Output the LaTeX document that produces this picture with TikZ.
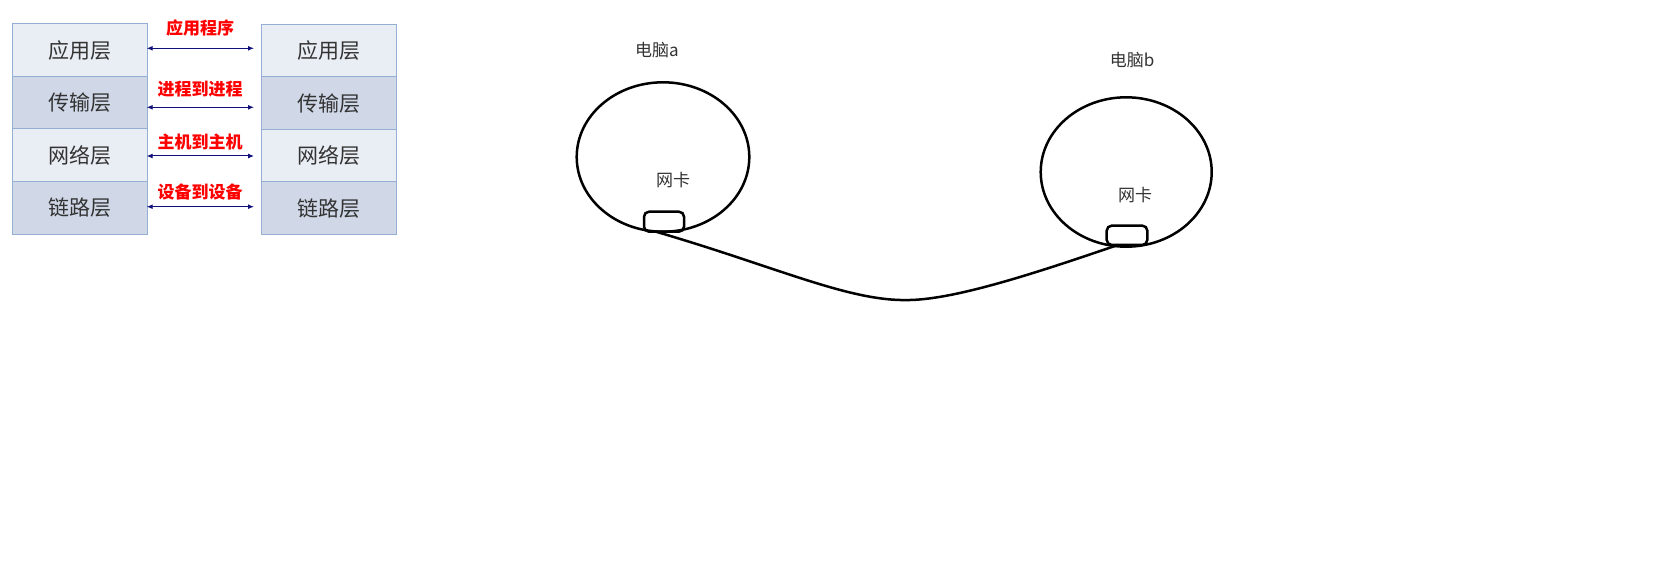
\documentclass[tikz,border=0pt]{standalone}
\usepackage{fontspec}
\newfontfamily\cjk{Noto Sans CJK SC}
\usetikzlibrary{shapes.geometric,arrows.meta}
\definecolor{rowlight}{HTML}{E9EDF4}
\definecolor{rowdark}{HTML}{D0D8E8}
\definecolor{rowline}{HTML}{95AED4}
\definecolor{arrownavy}{HTML}{10107A}
\definecolor{txtgray}{HTML}{333333}
\tikzset{
  cell/.style={draw=rowline, line width=1pt, minimum width=135pt, minimum height=52.5pt,
    inner sep=0pt, outer sep=0pt, anchor=north west, text=txtgray,
    font=\cjk\fontsize{21}{21}\selectfont},
  celllight/.style={cell, fill=rowlight},
  celldark/.style={cell, fill=rowdark},
  linkarrow/.style={{Latex[length=6pt,width=5pt]}-{Latex[length=6pt,width=5pt]}, draw=arrownavy, line width=1pt},
  linklabel/.style={text=red, font=\cjk\bfseries\fontsize{17}{17}\selectfont, inner sep=0pt},
  pc/.style={draw=black, ellipse, line width=2.5pt, inner sep=0pt, outer sep=0pt},
  nic/.style={draw=black, rounded corners=5pt, line width=2.5pt, inner sep=0pt, outer sep=0pt},
  pclabel/.style={text=txtgray, font=\cjk\fontsize{17}{17}\selectfont, inner sep=0pt},
}
\begin{document}
\begin{tikzpicture}[x=1pt,y=-1pt]
\useasboundingbox (0,0) rectangle (1667,580);
% left stack
\node[celllight] (L1) at (12.7,24) {应用层};
\node[celldark]  (L2) at (12.7,76.5) {传输层};
\node[celllight] (L3) at (12.7,129) {网络层};
\node[celldark]  (L4) at (12.7,181.5) {链路层};
% right stack
\node[celllight] (R1) at (261,24.5) {应用层};
\node[celldark]  (R2) at (261,77) {传输层};
\node[celllight] (R3) at (261,129.5) {网络层};
\node[celldark]  (R4) at (261,182) {链路层};
% arrows
\coordinate (a1l) at (146.7,48.3);  \coordinate (a1r) at (254,48.3);
\coordinate (a2l) at (146.7,107.3); \coordinate (a2r) at (254,107.3);
\coordinate (a3l) at (146.7,156);   \coordinate (a3r) at (254,156);
\coordinate (a4l) at (146.7,206.7); \coordinate (a4r) at (254,206.7);
\draw[linkarrow] (a1l) -- (a1r);
\draw[linkarrow] (a2l) -- (a2r);
\draw[linkarrow] (a3l) -- (a3r);
\draw[linkarrow] (a4l) -- (a4r);
\node[linklabel] (t1) at (200,28.3) {应用程序};
\node[linklabel] (t2) at (200,89.5) {进程到进程};
\node[linklabel] (t3) at (200,141.5) {主机到主机};
\node[linklabel] (t4) at (200,191.5) {设备到设备};
% computers
\node[pc, minimum width=172.6pt, minimum height=149.4pt] (pcA) at (663,157) {};
\node[pc, minimum width=171pt, minimum height=149.4pt] (pcB) at (1126.2,172) {};
\node[pclabel] (nameA) at (657,50) {电脑a};
\node[pclabel] (nameB) at (1132,60) {电脑b};
\node[pclabel] (nicA) at (673,180) {网卡};
\node[pclabel] (nicB) at (1135,195) {网卡};
\node[nic, minimum width=40pt, minimum height=20pt] (boxA) at (664,221.7) {};
\node[nic, minimum width=40.6pt, minimum height=19.3pt] (boxB) at (1127,235.3) {};
% cable
\draw[line width=2.5pt] ([xshift=-8pt]boxA.south) .. controls (780,268) and (850,302) .. (910,300)
  .. controls (960,299) and (1050,268) .. ([xshift=-9pt]boxB.south);
\end{tikzpicture}
\end{document}
